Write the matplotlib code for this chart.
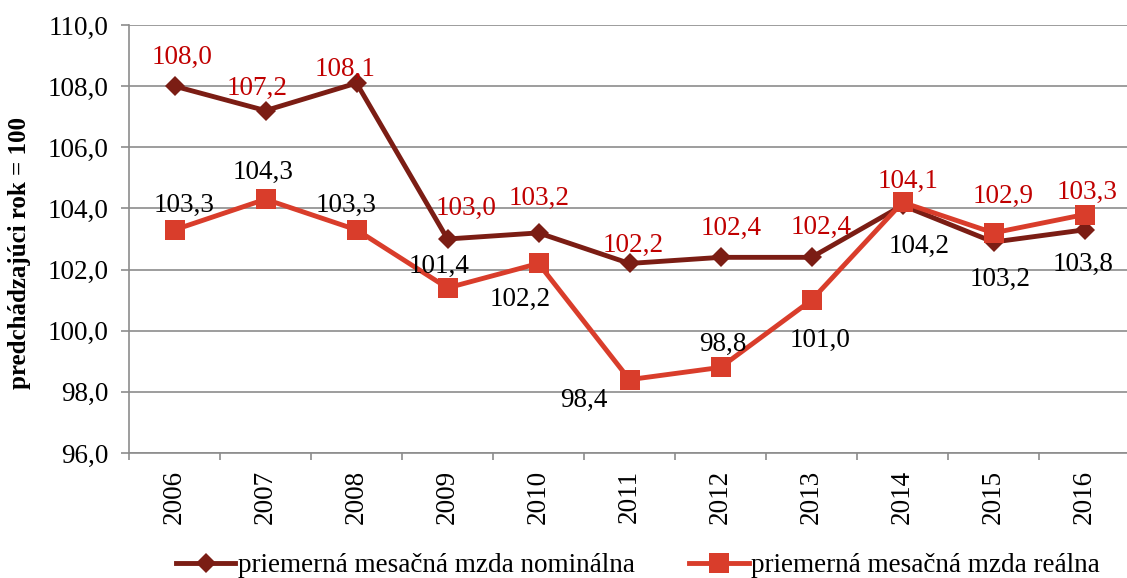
import matplotlib
matplotlib.use("Agg")
import matplotlib.pyplot as plt
from matplotlib.lines import Line2D

plt.rcParams['font.family'] = ['Liberation Serif', 'DejaVu Serif']

years = ['2006', '2007', '2008', '2009', '2010', '2011', '2012', '2013', '2014', '2015', '2016']
nominal = [108.0, 107.2, 108.1, 103.0, 103.2, 102.2, 102.4, 102.4, 104.1, 102.9, 103.3]
real = [103.3, 104.3, 103.3, 101.4, 102.2, 98.4, 98.8, 101.0, 104.2, 103.2, 103.8]
yticks = [96, 98, 100, 102, 104, 106, 108, 110]
name_nominal = 'priemerná mesačná mzda nominálna'
name_real = 'priemerná mesačná mzda reálna'
ylabel = 'predchádzajúci rok = 100'

# label offsets in pixels (style only)
off_nom = [(8, 29), (-8, 22), (-11, 14), (19, 31), (1, 34), (4, 18), (11, 29), (10, 30), (6, 24), (10, 46), (3, 37)]
off_real = [(10, 24), (-2, 27), (-10, 24), (-8, 22), (-18, -36), (-46, -21), (2, 23), (9, -40), (17, -44), (7, -47), (-1, -50)]

c_nom = '#7B1D14'
c_real = '#D93D2B'
c_lab = '#C00000'
grid_c = '#8C8C8C'

fig = plt.figure(figsize=(11.27, 5.78), dpi=100)
W, H = 1127, 578
ax = fig.add_axes([129 / W, 125 / H, (1130 - 129) / W, 428 / H])

x = list(range(len(years)))
ax.plot(x, nominal, color=c_nom, lw=3.5, marker='D', ms=10.5, mew=0, zorder=3)
ax.plot(x, real, color=c_real, lw=3.5, marker='s', ms=14, mew=0, zorder=4)

fs = 19.5
for i in x:
    ax.annotate(f'{nominal[i]:.1f}'.replace('.', ','), (i, nominal[i]), xytext=off_nom[i],
                textcoords='offset pixels', ha='center', va='center', color=c_lab, fontsize=fs, zorder=5)
    ax.annotate(f'{real[i]:.1f}'.replace('.', ','), (i, real[i]), xytext=off_real[i],
                textcoords='offset pixels', ha='center', va='center', color='black', fontsize=fs, zorder=5)

ax.set_xlim(-0.5, len(years) - 0.5)
ax.set_ylim(96, 110)
ax.set_yticks(yticks)
ax.set_yticklabels([f'{v:.1f}'.replace('.', ',') for v in yticks], fontsize=fs)
ax.yaxis.grid(True, color=grid_c, lw=1.2)
ax.set_axisbelow(True)

ax.set_xticks(x)
ax.set_xticklabels(years, rotation=90, fontsize=fs)
ax.set_xticks([i - 0.5 for i in range(len(years) + 1)], minor=True)
ax.tick_params(axis='x', which='major', length=0, pad=12)
ax.tick_params(axis='x', which='minor', length=5, color=grid_c, width=1.2)
ax.tick_params(axis='y', length=6, color=grid_c, width=1.2, pad=9)

for s in ['top', 'right']:
    ax.spines[s].set_visible(False)
for s in ['left', 'bottom']:
    ax.spines[s].set_color(grid_c)
    ax.spines[s].set_linewidth(1.2)

fig.text(20 / W, 1 - 253 / H, ylabel, rotation=90, ha='center', va='center', fontsize=18, fontweight='bold')

handles = [Line2D([], [], color=c_nom, lw=3.5, marker='D', ms=10.5, mew=0),
           Line2D([], [], color=c_real, lw=3.5, marker='s', ms=14, mew=0)]
fig.legend(handles, [name_nominal, name_real], loc='center', bbox_to_anchor=(638 / W, 12 / H),
           ncol=2, frameon=False, fontsize=fs, handlelength=2.2, handletextpad=0.1, columnspacing=2.0,
           borderpad=0)

fig.savefig('out.png', dpi=100)
